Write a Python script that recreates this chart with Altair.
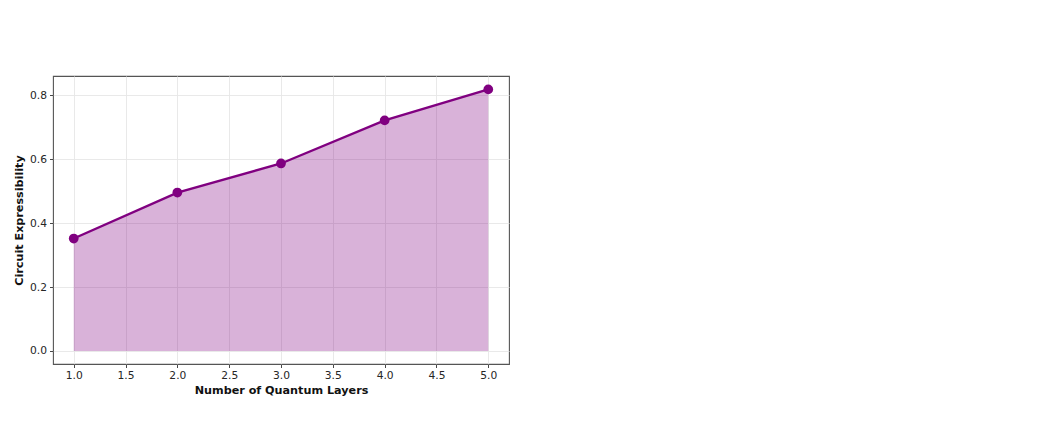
import altair as alt
import pandas as pd

# Circuit expressibility measured for each number of quantum layers
layers = [1, 2, 3, 4, 5]
expressibility = [0.352, 0.496, 0.587, 0.722, 0.819]

df = pd.DataFrame({"layers": layers, "expr": expressibility})

PURPLE = "#800080"
FONT = "DejaVu Sans"

x_enc = alt.X(
    "layers:Q",
    scale=alt.Scale(domain=[0.8, 5.2], nice=False, zero=False),
    axis=alt.Axis(
        title="Number of Quantum Layers",
        values=[1.0, 1.5, 2.0, 2.5, 3.0, 3.5, 4.0, 4.5, 5.0],
        format=".1f",
    ),
)
y_enc = alt.Y(
    "expr:Q",
    scale=alt.Scale(domain=[-0.041, 0.861], nice=False, zero=False),
    axis=alt.Axis(
        title="Circuit Expressibility",
        values=[0.0, 0.2, 0.4, 0.6, 0.8],
        format=".1f",
    ),
)

base = alt.Chart(df)

area = base.mark_area(color=PURPLE, opacity=0.3).encode(
    x=x_enc, y=y_enc, y2=alt.datum(0)
)
line = base.mark_line(color=PURPLE, strokeWidth=2.4).encode(x=x_enc, y=y_enc)
points = base.mark_circle(color=PURPLE, opacity=1, size=95).encode(x=x_enc, y=y_enc)

chart = (
    alt.layer(area, line, points)
    .properties(
        width=456,
        height=288,
        autosize=alt.AutoSizeParams(type="none"),
        padding={"left": 53, "top": 76, "right": 548, "bottom": 63},
        background="white",
    )
    .configure_view(stroke="#555555", strokeWidth=1.1)
    .configure_axis(
        domain=False,
        grid=True,
        gridColor="#e6e6e6",
        gridWidth=0.9,
        ticks=True,
        tickSize=3.5,
        tickColor="#333333",
        tickWidth=0.9,
        labelFont=FONT,
        labelFontSize=10.7,
        labelColor="#262626",
        labelPadding=3,
        titleFont=FONT,
        titleFontSize=11.2,
        titleFontWeight="bold",
        titleColor="#111111",
    )
    .configure_axisX(titlePadding=4)
    .configure_axisY(titlePadding=5)
)

chart.save("out.html", embed_options={"renderer": "svg", "actions": False})
